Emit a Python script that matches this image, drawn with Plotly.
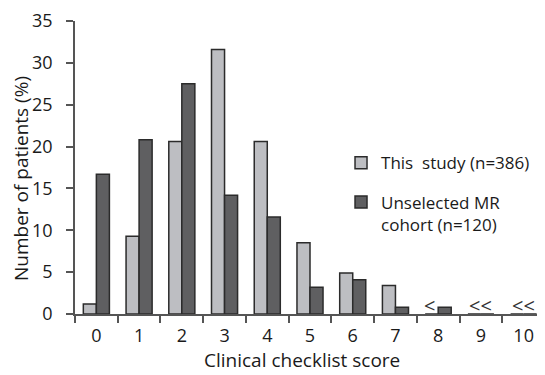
import plotly.graph_objects as go

categories = ["0", "1", "2", "3", "4", "5", "6", "7", "8", "9", "10"]
this_study = [1.2, 9.3, 20.6, 31.6, 20.6, 8.5, 4.9, 3.4, 0, 0, 0]
unselected = [16.7, 20.8, 27.5, 14.2, 11.6, 3.2, 4.1, 0.8, 0.8, 0, 0]
marker_cats = ["8", "9", "10"]
marker_text = ["<", "<<", "<<"]
marker_shift = [-9, 0, 0]
yticks = [0, 5, 10, 15, 20, 25, 30, 35]
x_title = "Clinical checklist score"
y_title = "Number of patients (%)"

FONT = "Open Sans"
AX = "#555555"
TXT = "#1a1a1a"

fig = go.Figure()
fig.add_trace(go.Bar(
    x=categories, y=this_study, name="This  study (n=386)",
    marker=dict(color="#bdbec2", line=dict(color="#2b2b2b", width=1.5)),
    legendgroup="a",
))
fig.add_trace(go.Bar(
    x=categories, y=unselected, name="Unselected MR<br>cohort (n=120)",
    marker=dict(color="#5f5f61", line=dict(color="#2b2b2b", width=1.5)),
    legendgroup="b",
))

for c, t, s in zip(marker_cats, marker_text, marker_shift):
    fig.add_annotation(x=c, y=0, text=t, showarrow=False, xshift=s, yshift=9,
                       yanchor="middle", font=dict(family=FONT, size=20, color="#333333"))

# axis titles placed as annotations for exact positioning
fig.add_annotation(xref="paper", yref="paper", x=0.483, y=-0.157, text=x_title,
                   showarrow=False, xanchor="center", yanchor="middle", borderpad=0,
                   font=dict(family=FONT, size=19, color=TXT))
fig.add_annotation(xref="paper", yref="paper", x=-0.1149, y=0.464, text=y_title,
                   showarrow=False, textangle=-90, xanchor="center", yanchor="middle",
                   borderpad=0, font=dict(family=FONT, size=19, color=TXT))

fig.update_layout(
    width=537, height=367,
    margin=dict(l=67, r=0, t=13, b=61, autoexpand=False),
    paper_bgcolor="white", plot_bgcolor="white",
    barmode="group", bargap=0.39, bargroupgap=0,
    font=dict(family=FONT, size=18, color=TXT),
    showlegend=True,
    legend=dict(x=0.566, y=0.576, xanchor="left", yanchor="top",
                font=dict(family=FONT, size=17, color=TXT),
                tracegroupgap=14, valign="top", itemwidth=30,
                bgcolor="rgba(0,0,0,0)"),
    xaxis=dict(
        type="category", tickson="boundaries", ticks="outside", ticklen=7,
        tickcolor=AX, tickwidth=1.5, showline=True, linecolor=AX, linewidth=1.5,
        showgrid=False, range=[-0.5, 10.5], automargin=False,
        ticklabelstandoff=5,
        tickfont=dict(size=18),
    ),
    yaxis=dict(
        range=[0, 35], tickvals=yticks, ticks="outside", ticklen=7,
        tickcolor=AX, tickwidth=1.5, showline=True, linecolor=AX, linewidth=1.5,
        showgrid=False, zeroline=False, automargin=False,
        ticklabelstandoff=10,
        tickfont=dict(size=18),
    ),
)

fig.write_html("out.html")
